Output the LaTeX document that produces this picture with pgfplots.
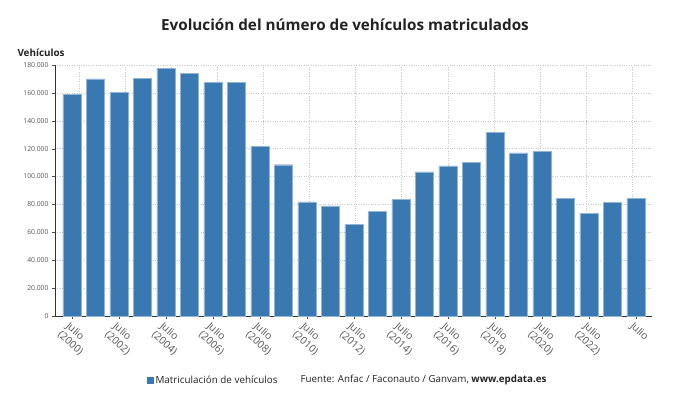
\documentclass[border=0pt]{standalone}
\usepackage{fontspec}
\setmainfont{Open Sans}
\usepackage{pgfplots}
\pgfplotsset{compat=1.18}
\definecolor{barblue}{HTML}{3A78B2}
\definecolor{gridgray}{HTML}{C8C8C8}
\definecolor{ticktext}{HTML}{555555}
\definecolor{maintext}{HTML}{222222}
\begin{document}
\begin{tikzpicture}[x=1bp,y=1bp]
\path[use as bounding box] (0,0) rectangle (690,405);
\begin{axis}[
  at={(55bp,89bp)}, anchor=south west,
  scale only axis, width=597bp, height=251bp,
  ymin=0, ymax=180000, xmin=-0.72, xmax=24.68,
  ytick={0,20000,40000,60000,80000,100000,120000,140000,160000,180000},
  yticklabels={0,20.000,40.000,60.000,80.000,100.000,120.000,140.000,160.000,180.000},
  scaled y ticks=false,
  yticklabel style={font=\fontsize{6.8}{7}\selectfont, text=ticktext},
  xtick={0,2,...,24},
  xticklabels={{Julio\\(2000)},{Julio\\(2002)},{Julio\\(2004)},{Julio\\(2006)},{Julio\\(2008)},{Julio\\(2010)},{Julio\\(2012)},{Julio\\(2014)},{Julio\\(2016)},{Julio\\(2018)},{Julio\\(2020)},{Julio\\(2022)},{Julio}},
  xticklabel style={rotate=-42, anchor=north west, align=left, font=\fontsize{10.3}{12}\selectfont, text=ticktext, xshift=-3bp, yshift=1bp},
  ymajorgrids=true, xmajorgrids=false, grid style={gridgray, dotted},
  extra x ticks={0.31,2.27,4.23,6.19,8.15,10.11,12.07,14.03,15.99,17.95,19.91,21.87,23.83},
  extra x tick labels={},
  extra x tick style={xmajorgrids=true, major tick length=0pt},
  axis x line*=bottom, axis y line*=left,
  axis line style={draw=black!80, line width=0.8pt},
  tick align=outside, major tick length=3bp,
  tick style={draw=black!70},
  ybar, bar width=0.77,
  legend style={at={(0.148,-0.255)}, anchor=west, draw=none, fill=none, font=\fontsize{9.9}{12}\selectfont, text=maintext},
  legend image code/.code={\draw[fill=barblue, draw=none] (0bp,-3.5bp) rectangle (7bp,3.5bp);},
]
\addplot[fill=barblue, draw=barblue!55!white, line width=0.4pt] coordinates {
(0,159000) (1,170000) (2,160200) (3,170500) (4,177700) (5,173800) (6,167600) (7,167600)
(8,121900) (9,108500) (10,81800) (11,79000) (12,65600) (13,75300) (14,83700) (15,103300)
(16,107600) (17,110200) (18,131500) (19,116900) (20,118100) (21,84200) (22,73700) (23,81600) (24,84400)};
\legend{Matriculación de vehículos}
\end{axis}
\node[font=\bfseries\fontsize{15.3}{18}\selectfont, text=maintext] at (345,380) {Evolución del número de vehículos matriculados};
\node[anchor=west, font=\bfseries\fontsize{9.9}{12}\selectfont, text=maintext] at (14,352) {Vehículos};
\node[anchor=west, font=\fontsize{9.8}{12}\selectfont, text=maintext] at (297,25) {Fuente: Anfac / Faconauto / Ganvam, \textbf{www.epdata.es}};
\end{tikzpicture}
\end{document}
